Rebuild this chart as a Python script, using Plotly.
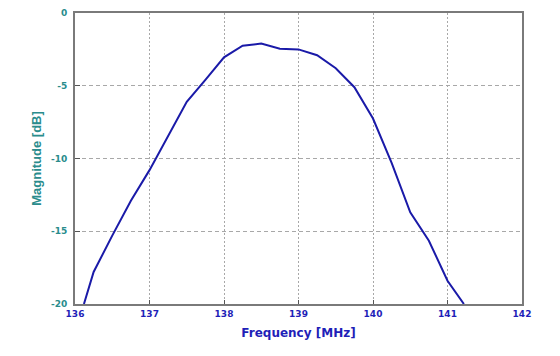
import plotly.graph_objects as go

freq_mhz = [136.12, 136.25, 136.5, 136.75, 137.0, 137.25, 137.5, 137.75, 138.0,
            138.25, 138.5, 138.75, 139.0, 139.25, 139.5, 139.75, 140.0, 140.25,
            140.5, 140.75, 141.0, 141.22]
magnitude_db = [-20.0, -17.8, -15.3, -12.9, -10.8, -8.4, -6.1, -4.6, -3.05,
                -2.25, -2.1, -2.45, -2.5, -2.9, -3.8, -5.1, -7.25, -10.3,
                -13.7, -15.65, -18.4, -20.0]

x_ticks = [136, 137, 138, 139, 140, 141, 142]
y_ticks = [0, -5, -10, -15, -20]

teal = "#2a8c8c"
blue = "#1f1fb8"
frame = "#7a7a7a"
grid = "#a8a8a8"

fig = go.Figure()
fig.add_trace(go.Scatter(x=freq_mhz, y=magnitude_db, mode="lines",
                         line=dict(color="#1a1aa8", width=2), showlegend=False))

fig.update_layout(
    width=552, height=348,
    margin=dict(l=67, r=38, t=5, b=52),
    paper_bgcolor="white", plot_bgcolor="white",
    xaxis=dict(range=[136, 142], tickvals=x_ticks, ticktext=[str(v) for v in x_ticks],
               showgrid=True, gridcolor=grid, griddash="2px,2px", gridwidth=1,
               showline=True, linecolor=frame, linewidth=2, mirror=True,
               ticks="inside", ticklen=4, tickcolor="#555555",
               automargin=False,
               tickfont=dict(family="DejaVu Sans", size=9, color=blue, weight="bold"),
               title=dict(text="Frequency [MHz]", standoff=11,
                          font=dict(family="DejaVu Sans", size=12, color=blue, weight="bold")),
               zeroline=False),
    yaxis=dict(range=[-20, 0], tickvals=y_ticks, ticktext=[str(v) for v in y_ticks],
               showgrid=True, gridcolor=grid, griddash="4px,3px", gridwidth=1,
               showline=True, linecolor=frame, linewidth=2, mirror=True,
               ticks="inside", ticklen=5, tickcolor="#555555",
               ticklabelstandoff=4, automargin=False,
               tickfont=dict(family="DejaVu Sans", size=9, color=teal, weight="bold"),
               title=dict(text="Magnitude [dB]", standoff=6,
                          font=dict(family="Liberation Sans", size=13, color=teal, weight="bold")),
               zeroline=False),
)

fig.write_html("out.html")
